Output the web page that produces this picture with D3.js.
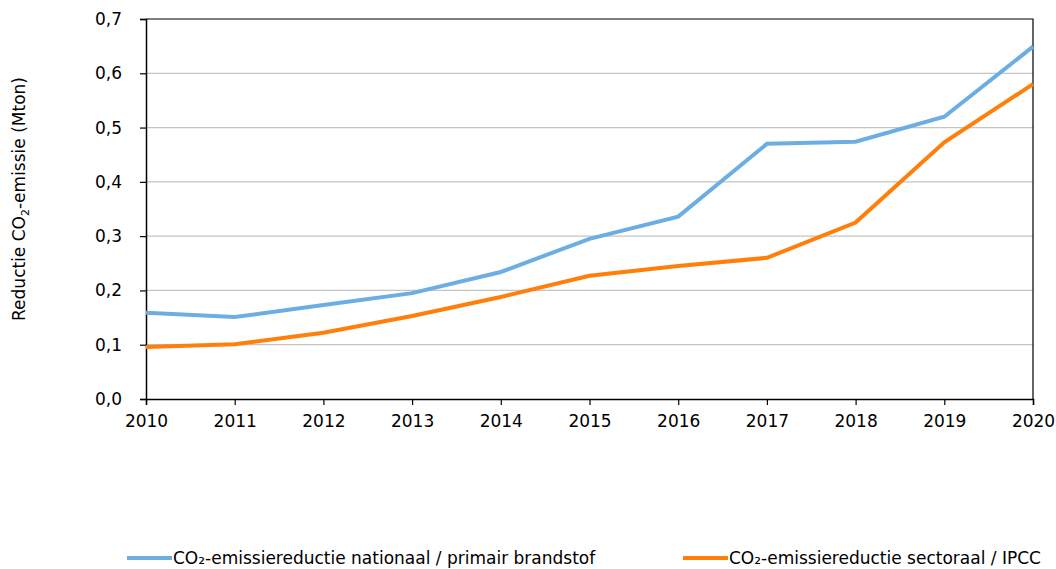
<!DOCTYPE html>
<html>
<head>
<meta charset="utf-8">
<script src="https://cdn.jsdelivr.net/npm/d3@7"></script>
<style>
  body { margin: 0; background: #fff; }
  text { font-family: "DejaVu Sans", Verdana, sans-serif; fill: #000; }
</style>
</head>
<body>
<div id="chart"></div>
<script>
// data
var years = [2010, 2011, 2012, 2013, 2014, 2015, 2016, 2017, 2018, 2019, 2020];
var nationaal = [0.159, 0.151, 0.173, 0.195, 0.234, 0.295, 0.336, 0.470, 0.474, 0.520, 0.649];
var sectoraal = [0.096, 0.101, 0.122, 0.153, 0.188, 0.227, 0.245, 0.260, 0.325, 0.473, 0.580];
var yTicks = [0, 0.1, 0.2, 0.3, 0.4, 0.5, 0.6, 0.7];

var width = 1056, height = 569;
var plot = {left: 146, right: 1033, top: 19, bottom: 399};
var fontSize = "17px";

var svg = d3.select("#chart").append("svg")
    .attr("width", width)
    .attr("height", height);

var x = d3.scaleLinear()
    .domain([2010, 2020])
    .range([plot.left, plot.right]);

var y = d3.scaleLinear()
    .domain([0, 0.7])
    .range([plot.bottom, plot.top]);

var fmt = function (d) { return d3.format(".1f")(d).replace(".", ","); };

// gridlines
svg.append("g")
    .selectAll("line")
    .data(yTicks.slice(1, -1))
    .enter()
    .append("line")
    .attr("x1", plot.left)
    .attr("x2", plot.right)
    .attr("y1", function (d) { return y(d); })
    .attr("y2", function (d) { return y(d); })
    .style("stroke", "#c4c4c4")
    .style("stroke-width", 1.2);

// border top and right
svg.append("path")
    .attr("d", "M" + plot.left + "," + plot.top + "H" + plot.right + "V" + plot.bottom)
    .style("fill", "none")
    .style("stroke", "#000")
    .style("stroke-width", 1.2);

// axes
var yAxis = svg.append("g")
    .attr("transform", "translate(" + plot.left + ",0)")
    .call(d3.axisLeft(y).tickValues(yTicks).tickFormat(fmt).tickSize(6).tickPadding(18));

var xAxis = svg.append("g")
    .attr("transform", "translate(0," + plot.bottom + ")")
    .call(d3.axisBottom(x).tickValues(years).tickFormat(d3.format("d")).tickSize(6).tickPadding(10));

[yAxis, xAxis].forEach(function (a) {
    a.attr("font-size", null).attr("font-family", null);
    a.select(".domain").style("stroke", "#000").style("stroke-width", 1.5);
    a.selectAll(".tick line").style("stroke", "#000").style("stroke-width", 1.2);
    a.selectAll("text").style("font-size", fontSize);
});

// y label
var yLabel = svg.append("text")
    .attr("transform", "translate(25,199) rotate(-90)")
    .attr("text-anchor", "middle")
    .style("font-size", fontSize);
yLabel.append("tspan").text("Reductie CO");
yLabel.append("tspan").attr("dy", 4).style("font-size", "11px").text("2");
yLabel.append("tspan").attr("dy", -4).text("-emissie (Mton)");

// lines
var series = [
    {name: "CO₂-emissiereductie nationaal / primair brandstof", values: nationaal, color: "#6caee3"},
    {name: "CO₂-emissiereductie sectoraal / IPCC", values: sectoraal, color: "#ff7f0a"}
];

var line = d3.line()
    .x(function (d, i) { return x(years[i]); })
    .y(function (d) { return y(d); });

svg.selectAll("path.series")
    .data(series)
    .enter()
    .append("path")
    .attr("class", "series")
    .attr("d", function (d) { return line(d.values); })
    .style("fill", "none")
    .style("stroke", function (d) { return d.color; })
    .style("stroke-width", 4);

// legend
var legendX = [127, 683];
var legend = svg.selectAll("g.legend")
    .data(series)
    .enter()
    .append("g")
    .attr("class", "legend")
    .attr("transform", function (d, i) { return "translate(" + legendX[i] + ",558)"; });

legend.append("line")
    .attr("x1", 0)
    .attr("x2", 45)
    .style("stroke", function (d) { return d.color; })
    .style("stroke-width", 4);

legend.append("text")
    .attr("x", 46)
    .attr("dy", "0.35em")
    .style("font-size", fontSize)
    .text(function (d) { return d.name; });
</script>
</body>
</html>
